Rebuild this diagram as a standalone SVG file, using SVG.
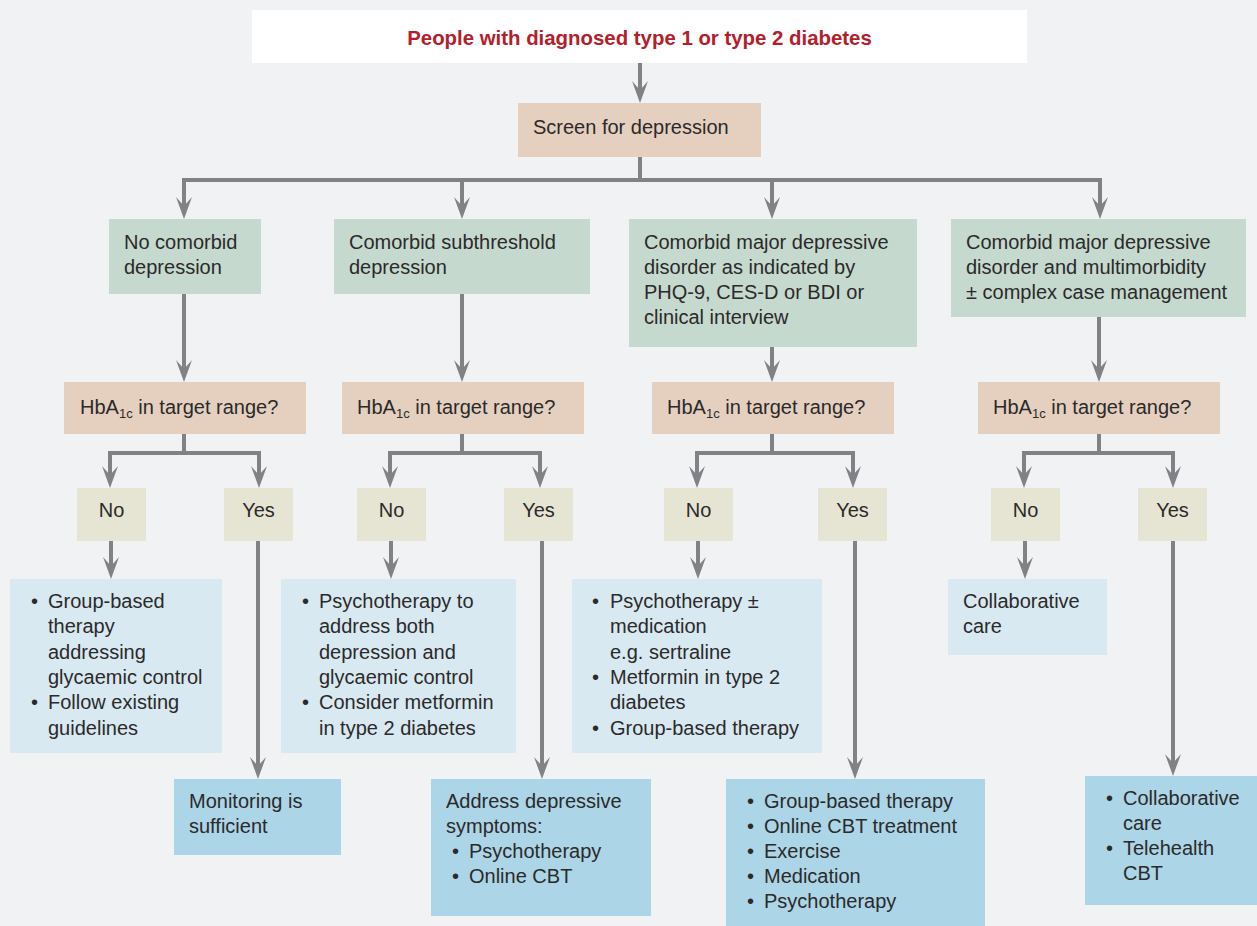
<svg xmlns="http://www.w3.org/2000/svg" width="1257" height="926" viewBox="0 0 1257 926">
<style>
  text { font-family: "Liberation Sans", Arial, sans-serif; font-size: 20px; fill: #2b2a2a; }
  .title { font-weight: bold; font-size: 20.4px; fill: #b3202b; text-anchor: middle; }
  .c { text-anchor: middle; }
  .sub { font-size: 13px; }
  .white { fill: #ffffff; }
  .tan { fill: #e5d0bf; }
  .green { fill: #c6d9ce; }
  .yn { fill: #e6e5d4; }
  .lb { fill: #d9e9f1; }
  .db { fill: #acd5e7; }
  .conn { fill: none; stroke: #808285; stroke-width: 4; marker-end: url(#ah); }
  .line { fill: none; stroke: #808285; stroke-width: 4; }
</style>
<defs>
  <marker id="ah" viewBox="0 0 22 16" refX="9" refY="8" markerWidth="22" markerHeight="16" markerUnits="userSpaceOnUse" orient="auto">
    <path d="M0,0 L22,8 L0,16 L9,8 Z" fill="#808285"/>
  </marker>
</defs>
<rect x="0" y="0" width="1257" height="926" fill="#f1f2f4"/>

<g id="connectors">
  <path class="conn" d="M640,63 V90"/>
  <path class="line" d="M640,157 V180"/>
  <path class="conn" d="M640,180 H184 V206"/>
  <path class="conn" d="M462,180 V206"/>
  <path class="conn" d="M640,180 H1100 V206"/>
  <path class="conn" d="M772,180 V206"/>
  <path class="conn" d="M184,294 V369"/>
  <path class="conn" d="M462,294 V369"/>
  <path class="conn" d="M772,347 V369"/>
  <path class="conn" d="M1099,317 V369"/>
  <path class="conn" d="M184,434 V453 H110 V475"/>
  <path class="conn" d="M184,453 H259 V475"/>
  <path class="conn" d="M462,434 V453 H390 V475"/>
  <path class="conn" d="M462,453 H540 V475"/>
  <path class="conn" d="M772,434 V453 H697 V475"/>
  <path class="conn" d="M772,453 H853 V475"/>
  <path class="conn" d="M1099,434 V453 H1024 V475"/>
  <path class="conn" d="M1099,453 H1173 V475"/>
  <path class="conn" d="M111,541 V566"/>
  <path class="conn" d="M258,541 V766"/>
  <path class="conn" d="M391,541 V566"/>
  <path class="conn" d="M542,541 V766"/>
  <path class="conn" d="M698,541 V566"/>
  <path class="conn" d="M855,541 V766"/>
  <path class="conn" d="M1025,541 V566"/>
  <path class="conn" d="M1173,541 V763"/>
</g>

<g id="title">
  <rect class="white" x="252" y="10" width="775" height="53"/>
  <text class="title" x="639.5" y="45">People with diagnosed type 1 or type 2 diabetes</text>
</g>
<g id="screen">
  <rect class="tan" x="518" y="103" width="243" height="54"/>
  <text x="533" y="134">Screen for depression</text>
</g>

<g id="cat1">
  <rect class="green" x="109" y="219" width="152" height="75"/>
  <text x="124" y="249">No comorbid</text>
  <text x="124" y="274">depression</text>
</g>
<g id="cat2">
  <rect class="green" x="334" y="219" width="256" height="75"/>
  <text x="349" y="249">Comorbid subthreshold</text>
  <text x="349" y="274">depression</text>
</g>
<g id="cat3">
  <rect class="green" x="629" y="219" width="288" height="128"/>
  <text x="644" y="249">Comorbid major depressive</text>
  <text x="644" y="274">disorder as indicated by</text>
  <text x="644" y="299">PHQ-9, CES-D or BDI or</text>
  <text x="644" y="324">clinical interview</text>
</g>
<g id="cat4">
  <rect class="green" x="951" y="219" width="295" height="98"/>
  <text x="966" y="249">Comorbid major depressive</text>
  <text x="966" y="274">disorder and multimorbidity</text>
  <text x="966" y="299">± complex case management</text>
</g>

<g id="hba1">
  <rect class="tan" x="64" y="382" width="242" height="52"/>
  <text x="80" y="414">HbA<tspan class="sub" dy="4">1c</tspan><tspan dy="-4"> in target range?</tspan></text>
</g>
<g id="hba2">
  <rect class="tan" x="342" y="382" width="242" height="52"/>
  <text x="357" y="414">HbA<tspan class="sub" dy="4">1c</tspan><tspan dy="-4"> in target range?</tspan></text>
</g>
<g id="hba3">
  <rect class="tan" x="652" y="382" width="242" height="52"/>
  <text x="667" y="414">HbA<tspan class="sub" dy="4">1c</tspan><tspan dy="-4"> in target range?</tspan></text>
</g>
<g id="hba4">
  <rect class="tan" x="978" y="382" width="242" height="52"/>
  <text x="993" y="414">HbA<tspan class="sub" dy="4">1c</tspan><tspan dy="-4"> in target range?</tspan></text>
</g>

<g id="no1"><rect class="yn" x="77" y="488" width="69" height="53"/><text class="c" x="111.5" y="517">No</text></g>
<g id="yes1"><rect class="yn" x="224" y="488" width="69" height="53"/><text class="c" x="258.5" y="517">Yes</text></g>
<g id="no2"><rect class="yn" x="357" y="488" width="69" height="53"/><text class="c" x="391.5" y="517">No</text></g>
<g id="yes2"><rect class="yn" x="504" y="488" width="69" height="53"/><text class="c" x="538.5" y="517">Yes</text></g>
<g id="no3"><rect class="yn" x="664" y="488" width="69" height="53"/><text class="c" x="698.5" y="517">No</text></g>
<g id="yes3"><rect class="yn" x="818" y="488" width="69" height="53"/><text class="c" x="852.5" y="517">Yes</text></g>
<g id="no4"><rect class="yn" x="991" y="488" width="69" height="53"/><text class="c" x="1025.5" y="517">No</text></g>
<g id="yes4"><rect class="yn" x="1138" y="488" width="69" height="53"/><text class="c" x="1172.5" y="517">Yes</text></g>

<g id="out-no1">
  <rect class="lb" x="10" y="579" width="212" height="174"/>
  <text x="31" y="608">•</text><text x="48" y="608">Group-based</text>
  <text x="48" y="633">therapy</text>
  <text x="48" y="659">addressing</text>
  <text x="48" y="684">glycaemic control</text>
  <text x="31" y="709">•</text><text x="48" y="709">Follow existing</text>
  <text x="48" y="735">guidelines</text>
</g>
<g id="out-no2">
  <rect class="lb" x="281" y="579" width="235" height="174"/>
  <text x="302" y="608">•</text><text x="319" y="608">Psychotherapy to</text>
  <text x="319" y="633">address both</text>
  <text x="319" y="659">depression and</text>
  <text x="319" y="684">glycaemic control</text>
  <text x="302" y="709">•</text><text x="319" y="709">Consider metformin</text>
  <text x="319" y="735">in type 2 diabetes</text>
</g>
<g id="out-no3">
  <rect class="lb" x="572" y="579" width="250" height="174"/>
  <text x="592" y="608">•</text><text x="610" y="608">Psychotherapy ±</text>
  <text x="610" y="633">medication</text>
  <text x="610" y="659">e.g. sertraline</text>
  <text x="592" y="684">•</text><text x="610" y="684">Metformin in type 2</text>
  <text x="610" y="709">diabetes</text>
  <text x="592" y="735">•</text><text x="610" y="735">Group-based therapy</text>
</g>
<g id="out-no4">
  <rect class="lb" x="948" y="579" width="159" height="76"/>
  <text x="963" y="608">Collaborative</text>
  <text x="963" y="633">care</text>
</g>

<g id="out-yes1">
  <rect class="db" x="174" y="779" width="167" height="76"/>
  <text x="189" y="808">Monitoring is</text>
  <text x="189" y="833">sufficient</text>
</g>
<g id="out-yes2">
  <rect class="db" x="431" y="779" width="220" height="137"/>
  <text x="446" y="808">Address depressive</text>
  <text x="446" y="833">symptoms:</text>
  <text x="452" y="858">•</text><text x="469" y="858">Psychotherapy</text>
  <text x="452" y="883">•</text><text x="469" y="883">Online CBT</text>
</g>
<g id="out-yes3">
  <rect class="db" x="726" y="779" width="259" height="147"/>
  <text x="747" y="808">•</text><text x="764" y="808">Group-based therapy</text>
  <text x="747" y="833">•</text><text x="764" y="833">Online CBT treatment</text>
  <text x="747" y="858">•</text><text x="764" y="858">Exercise</text>
  <text x="747" y="883">•</text><text x="764" y="883">Medication</text>
  <text x="747" y="908">•</text><text x="764" y="908">Psychotherapy</text>
</g>
<g id="out-yes4">
  <rect class="db" x="1085" y="776" width="172" height="129"/>
  <text x="1106" y="805">•</text><text x="1123" y="805">Collaborative</text>
  <text x="1123" y="830">care</text>
  <text x="1106" y="855">•</text><text x="1123" y="855">Telehealth</text>
  <text x="1123" y="880">CBT</text>
</g>
</svg>
